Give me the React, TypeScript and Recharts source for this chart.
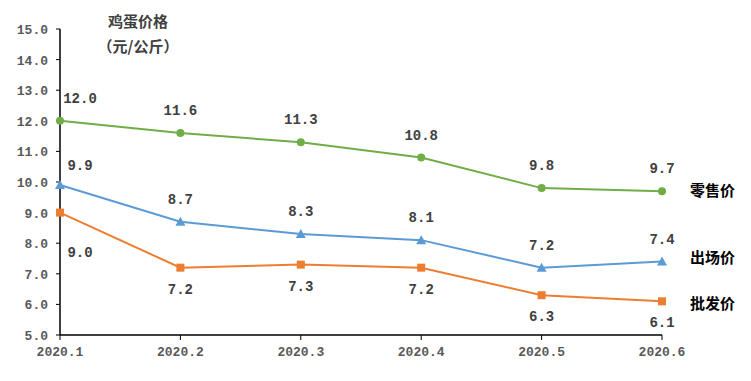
import { LineChart, Line, XAxis, YAxis, LabelList } from "recharts";

const months = ["2020.1", "2020.2", "2020.3", "2020.4", "2020.5", "2020.6"];
const retail = [12.0, 11.6, 11.3, 10.8, 9.8, 9.7];
const factory = [9.9, 8.7, 8.3, 8.1, 7.2, 7.4];
const wholesale = [9.0, 7.2, 7.3, 7.2, 6.3, 6.1];
const yTicks = [5, 6, 7, 8, 9, 10, 11, 12, 13, 14, 15];

const data = months.map((m, i) => ({
  month: m,
  retail: retail[i],
  factory: factory[i],
  wholesale: wholesale[i],
}));

const NUM_FONT = "'Liberation Mono', 'DejaVu Sans Mono', monospace";
const CJK_FONT = "'Noto Sans CJK SC', sans-serif";

const GREEN = "#70AD47";
const BLUE = "#5B9BD5";
const ORANGE = "#ED7D31";

const CircleDot = (props: any) => {
  const { cx, cy } = props;
  if (cx == null || cy == null) return null;
  return <circle cx={cx} cy={cy} r={4} fill={GREEN} />;
};

const TriangleDot = (props: any) => {
  const { cx, cy } = props;
  if (cx == null || cy == null) return null;
  return (
    <polygon
      points={`${cx},${cy - 5} ${cx + 5},${cy + 4} ${cx - 5},${cy + 4}`}
      fill={BLUE}
    />
  );
};

const SquareDot = (props: any) => {
  const { cx, cy } = props;
  if (cx == null || cy == null) return null;
  return <rect x={cx - 4} y={cy - 4} width={8} height={8} fill={ORANGE} />;
};

// value label + series name at the end of the line
const makeLabel =
  (name: string, place: "above" | "below", firstDy: number, nameDy: number) =>
  (props: any) => {
    const { x, y, value, index } = props;
    const first = index === 0;
    const dy = first ? firstDy : place === "above" ? -18 : 26;
    return (
      <g>
        <text
          x={first ? x + 20 : x}
          y={y + dy}
          textAnchor="middle"
          fontFamily={NUM_FONT}
          fontWeight="bold"
          fontSize={14}
          fill="#404040"
        >
          {value.toFixed(1)}
        </text>
        {index === months.length - 1 && (
          <text
            x={x + 28}
            y={y + nameDy}
            fontFamily={CJK_FONT}
            fontWeight="bold"
            fontSize={15}
            fill="#000"
          >
            {name}
          </text>
        )}
      </g>
    );
  };

const YTick = (props: any) => {
  const { x, y, payload } = props;
  return (
    <text
      x={x - 6}
      y={y + 5}
      textAnchor="end"
      fontFamily={NUM_FONT}
      fontWeight="bold"
      fontSize={13}
      fill="#595959"
    >
      {payload.value.toFixed(1)}
    </text>
  );
};

const XTick = (props: any) => {
  const { x, y, payload } = props;
  return (
    <text
      x={x}
      y={y + 14}
      textAnchor="middle"
      fontFamily={NUM_FONT}
      fontWeight="bold"
      fontSize={13}
      fill="#595959"
    >
      {payload.value}
    </text>
  );
};

export default function App() {
  return (
    <div
      style={{
        position: "absolute",
        left: 0,
        top: 0,
        width: 751,
        height: 381,
        background: "#fff",
      }}
    >
      <LineChart
        width={751}
        height={381}
        data={data}
        margin={{ top: 29, right: 89, bottom: 0, left: 0 }}
      >
        <XAxis
          dataKey="month"
          height={46}
          axisLine={{ stroke: "#000", strokeWidth: 1.5 }}
          tickLine={{ stroke: "#000" }}
          tickSize={5}
          tick={<XTick />}
          interval={0}
        />
        <YAxis
          width={60}
          domain={[5, 15]}
          ticks={yTicks}
          axisLine={{ stroke: "#000", strokeWidth: 1.5 }}
          tickLine={{ stroke: "#000" }}
          tickSize={4}
          tick={<YTick />}
          interval={0}
        />
        <Line
          dataKey="retail"
          stroke={GREEN}
          strokeWidth={2}
          dot={<CircleDot />}
          activeDot={false}
          isAnimationActive={false}
        >
          <LabelList dataKey="retail" content={makeLabel("零售价", "above", -18, 5)} />
        </Line>
        <Line
          dataKey="factory"
          stroke={BLUE}
          strokeWidth={2}
          dot={<TriangleDot />}
          activeDot={false}
          isAnimationActive={false}
        >
          <LabelList dataKey="factory" content={makeLabel("出场价", "above", -15, 1)} />
        </Line>
        <Line
          dataKey="wholesale"
          stroke={ORANGE}
          strokeWidth={2}
          dot={<SquareDot />}
          activeDot={false}
          isAnimationActive={false}
        >
          <LabelList dataKey="wholesale" content={makeLabel("批发价", "below", 44, 8)} />
        </Line>
      </LineChart>
      <div
        style={{
          position: "absolute",
          left: 88,
          top: 8,
          width: 100,
          textAlign: "center",
          fontFamily: CJK_FONT,
          fontWeight: "bold",
          fontSize: 15,
          lineHeight: "25px",
          color: "#404040",
        }}
      >
        鸡蛋价格
        <br />
        （元/公斤）
      </div>
    </div>
  );
}
